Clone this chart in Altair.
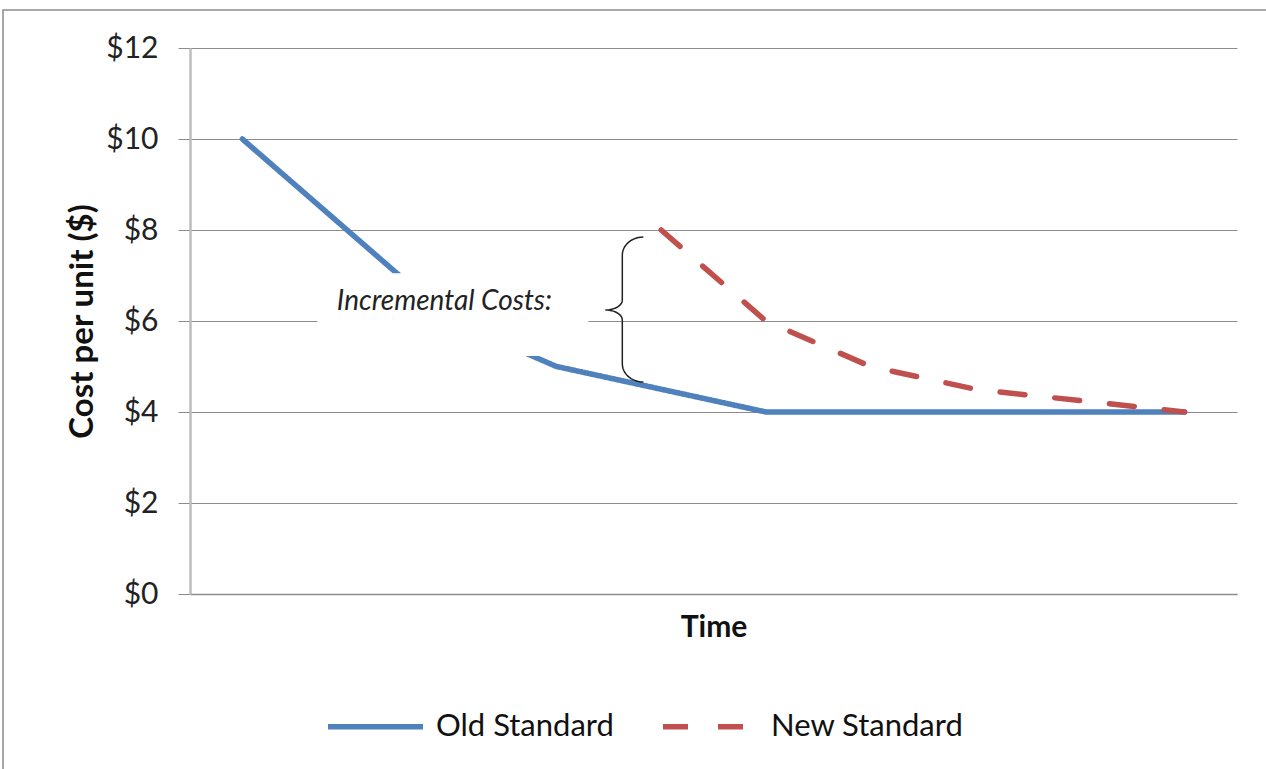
import altair as alt
import pandas as pd
import numpy as np

# ---- data ----
periods = list(range(1, 11))
old_standard = [10, 8, 6, 5, 4.5, 4, 4, 4, 4, 4]
new_standard = [None, None, None, None, 8, 6, 5, 4.5, 4.25, 4]
series_names = ["Old Standard", "New Standard"]
series_colors = ["#4F81BD", "#C0504D"]
y_ticks = [0, 2, 4, 6, 8, 10, 12]
annotation_text = "Incremental Costs:"

rows = []
for p, o, n in zip(periods, old_standard, new_standard):
    rows.append({"t": p, "cost": o, "series": "Old Standard"})
    if n is not None:
        rows.append({"t": p, "cost": n, "series": "New Standard"})
df = pd.DataFrame(rows)

FONT = "Lato"
W, H = 1047, 546

xscale = alt.Scale(domain=[0.5, 10.5], nice=False, zero=False)
yscale = alt.Scale(domain=[0, 12], nice=False)

color_scale = alt.Scale(domain=series_names, range=series_colors)
dash_scale = alt.Scale(domain=series_names, range=[[1, 0], [25, 30]])

x_enc = alt.X("t:Q", scale=xscale, title="Time",
              axis=alt.Axis(labels=False, ticks=False, grid=False, domain=True,
                            domainColor="#8c8c8c", domainWidth=1.5,
                            titleFont=FONT, titleFontSize=30, titleFontWeight="bold",
                            titleColor="#111", titlePadding=18))
y_enc = alt.Y("cost:Q", scale=yscale, title="Cost per unit ($)",
              axis=alt.Axis(values=y_ticks, labelExpr="'$' + datum.value",
                            grid=True, gridColor="#8c8c8c", gridWidth=1,
                            domain=True, domainColor="#bdbdbd", domainWidth=2.5,
                            ticks=True, tickColor="#8c8c8c", tickSize=12, tickWidth=1,
                            labelFont=FONT, labelFontSize=30, labelColor="#222",
                            labelPadding=20,
                            titleFont=FONT, titleFontSize=33, titleFontWeight="bold",
                            titleColor="#111", titlePadding=6))

legend = alt.Legend(title=None, orient="none", legendX=135, legendY=628,
                    direction="horizontal", symbolType="stroke", symbolSize=9025,
                    symbolStrokeWidth=5.5, labelFont=FONT, labelFontSize=31,
                    labelColor="#111", labelOffset=10, columnPadding=38,
                    labelLimit=400)

base = alt.Chart(df).mark_line(strokeWidth=5.5, strokeCap="round", strokeJoin="round").encode(
    x=x_enc, y=y_enc,
    color=alt.Color("series:N", scale=color_scale, legend=legend, sort=series_names),
    strokeDash=alt.StrokeDash("series:N", scale=dash_scale, legend=legend, sort=series_names),
)
old_line = base.transform_filter(alt.datum.series == "Old Standard")
new_line = base.transform_filter(alt.datum.series == "New Standard")

# white annotation box covering part of the chart
box_df = pd.DataFrame({"x": [1.716], "x2": [4.305], "y": [7.05], "y2": [5.23]})
box = alt.Chart(box_df).mark_rect(fill="white", stroke=None).encode(
    x="x:Q", x2="x2:Q", y="y:Q", y2="y2:Q")

text_df = pd.DataFrame({"x": [2.93], "y": [6.42], "label": [annotation_text]})
text = alt.Chart(text_df).mark_text(font=FONT, fontSize=28, fontStyle="italic",
                                    color="#222", align="center", baseline="middle").encode(
    x="x:Q", y="y:Q", text="label:N")

# curly brace shape (in data units)
def arc(cx, cy, rx, ry, a0, a1, n=14):
    t = np.linspace(np.radians(a0), np.radians(a1), n)
    return list(cx + rx * np.cos(t)), list(cy + ry * np.sin(t))

tip_x, spine_x, mid_x = 4.83, 4.629, 4.467
top_y, mid_y, bot_y = 7.846, 6.242, 4.659
ry_end, ry_mid = 0.40, 0.22
xs, ys = [], []
ax, ay = arc(tip_x, top_y - ry_end, tip_x - spine_x, ry_end, 90, 180); xs += ax; ys += ay
ax, ay = arc(mid_x, mid_y + ry_mid, spine_x - mid_x, ry_mid, 0, -90); xs += ax; ys += ay
ax, ay = arc(mid_x, mid_y - ry_mid, spine_x - mid_x, ry_mid, 90, 0); xs += ax; ys += ay
ax, ay = arc(tip_x, bot_y + ry_end, tip_x - spine_x, ry_end, 180, 270); xs += ax; ys += ay
brace_df = pd.DataFrame({"x": xs, "y": ys, "i": list(range(len(xs)))})
brace = alt.Chart(brace_df).mark_line(color="#222", strokeWidth=1.5).encode(
    x="x:Q", y="y:Q", order="i:Q")

frame = alt.Chart(pd.DataFrame({"a": [0]})).mark_rect(
    fill=None, stroke="#8c8c8c", strokeWidth=1.5).encode(
    x=alt.value(-187), y=alt.value(-38), x2=alt.value(1200), y2=alt.value(800))

chart = alt.layer(old_line, new_line, box, text, brace, frame).properties(
    width=W, height=H,
    autosize=alt.AutoSizeParams(type="none"),
    padding={"left": 190, "top": 48, "right": 29, "bottom": 175},
    background="white",
).configure_view(stroke=None)

chart.save("out.html", embed_options={"renderer": "svg", "actions": False})
